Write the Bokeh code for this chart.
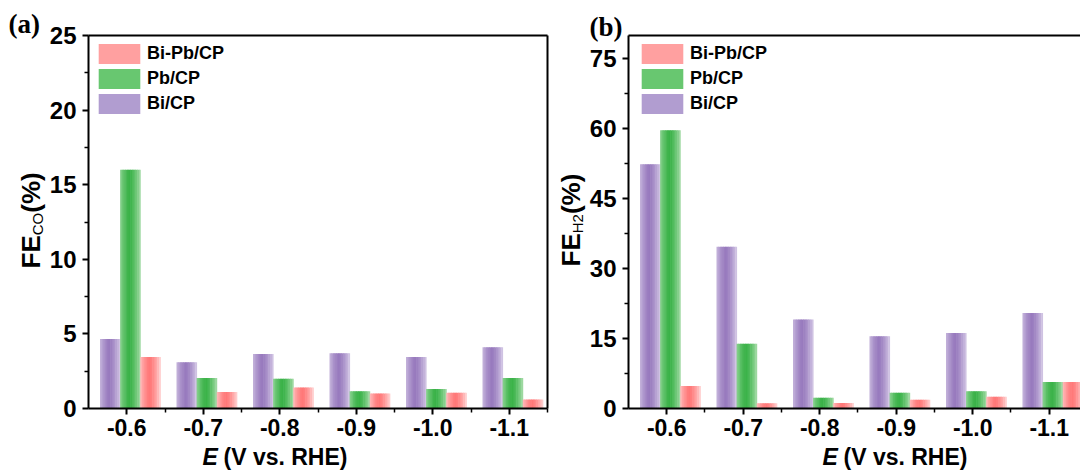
import math
import numpy as np
from bokeh.plotting import figure
from bokeh.layouts import row, column
from bokeh.models import (FixedTicker, LinearAxis, Range1d, Label, Legend, LegendItem)
from bokeh.embed import file_html
from bokeh.resources import INLINE

# ---------------- data ----------------
potentials = ["-0.6", "-0.7", "-0.8", "-0.9", "-1.0", "-1.1"]
series_names = ["Bi/CP", "Pb/CP", "Bi-Pb/CP"]

fe_co_bi = [4.65, 3.1, 3.65, 3.7, 3.45, 4.1]
fe_co_pb = [16.0, 2.05, 2.0, 1.15, 1.3, 2.05]
fe_co_bipb = [3.45, 1.1, 1.4, 1.0, 1.05, 0.6]

fe_h2_bi = [52.4, 34.7, 19.1, 15.5, 16.2, 20.5]
fe_h2_pb = [59.7, 13.9, 2.3, 3.4, 3.7, 5.7]
fe_h2_bipb = [4.8, 1.1, 1.2, 1.9, 2.5, 5.7]

co_ticks = [0, 5, 10, 15, 20, 25]
h2_ticks = [0, 15, 30, 45, 60, 75]

# ---------------- style ----------------
FONT = "Liberation Sans"
SERIF = "Liberation Serif"
dark = {"Bi/CP": (152, 122, 190), "Pb/CP": (58, 178, 72), "Bi-Pb/CP": (255, 120, 120)}
light = {"Bi/CP": (214, 203, 231), "Pb/CP": (168, 221, 170), "Bi-Pb/CP": (255, 214, 214)}
mid = {"Bi/CP": "#b19dd0", "Pb/CP": "#68c770", "Bi-Pb/CP": "#ffa0a0"}
offsets = {"Bi/CP": -0.213, "Pb/CP": 0.05, "Bi-Pb/CP": 0.313}
BW = 0.265
NSTRIP = 12
K = 0.38  # baseline correction (fraction of font size)
PLOT_H = 444


def shade(name, u):
    d = max(0.0, 1 - (abs(u - 0.45) / 0.55) ** 1.5)
    a = light[name]
    b = dark[name]
    c = tuple(int(round(a[i] + (b[i] - a[i]) * d)) for i in range(3))
    return "#%02x%02x%02x" % c


def text_fig(width, height):
    f = figure(width=width, height=height, output_backend="svg", toolbar_location=None,
               x_range=Range1d(0, 1), y_range=Range1d(0, 1),
               x_axis_location=None, y_axis_location=None,
               min_border_left=0, min_border_right=0, min_border_top=0, min_border_bottom=0,
               outline_line_color=None, background_fill_color="white",
               border_fill_color="white")
    f.grid.visible = False
    return f


def lab(fig, x, y, text, size, style="bold", font=FONT, angle=0.0, where=None):
    # (x, y) is the wanted baseline start; shift to compensate the renderer's offset
    if angle == 0.0:
        y = y + K * size
    else:
        x = x - K * size
    l = Label(x=x, y=y, x_units="screen", y_units="screen", text=text, angle=angle,
              text_font=font, text_font_style=style, text_font_size=f"{size}px",
              text_align="left", text_baseline="alphabetic", text_color="black")
    if where is None:
        fig.add_layout(l)
    else:
        fig.add_layout(l, where)


def plot_panel(vals, yend, yticks, yminor, width, bl, br, xend, right_axis, leg_x):
    bottom = PLOT_H - 35 - 373
    p = figure(width=width, height=PLOT_H, output_backend="svg", toolbar_location=None,
               x_range=Range1d(-0.5, xend), y_range=Range1d(0, yend),
               min_border_left=bl, min_border_right=br, min_border_top=35,
               min_border_bottom=bottom,
               outline_line_color=None, background_fill_color="white", border_fill_color="white")
    p.xgrid.visible = False
    p.ygrid.visible = False

    idx = np.arange(len(potentials))
    sw = BW / NSTRIP
    for name in series_names:
        v = vals[name]
        for k in range(NSTRIP):
            u = (k + 0.5) / NSTRIP
            col = shade(name, u)
            xs = idx + offsets[name] - BW / 2 + (k + 0.5) * sw
            p.vbar(x=xs, top=v, width=sw * 1.35 if k < NSTRIP - 1 else sw, bottom=0,
                   fill_color=col, line_color=None)
    items = []
    for name in ["Bi-Pb/CP", "Pb/CP", "Bi/CP"]:
        rr = p.vbar(x=[-10], top=[0], width=0.1, fill_color=mid[name], line_color=None)
        items.append(LegendItem(label=name, renderers=[rr]))
    leg = Legend(items=items, location=(leg_x, 292), orientation="vertical",
                 glyph_width=52, glyph_height=25, label_height=25, label_standoff=2,
                 spacing=0, padding=0, margin=0, border_line_color=None,
                 background_fill_alpha=0, label_text_font=FONT,
                 label_text_font_style="bold", label_text_font_size="18px",
                 label_text_color="black")
    p.add_layout(leg, "center")

    xa = p.xaxis[0]
    xa.ticker = FixedTicker(ticks=list(range(len(potentials))),
                            minor_ticks=[i + 0.5 for i in range(len(potentials))])
    xa.major_label_overrides = {i: s for i, s in enumerate(potentials)}
    ya = p.yaxis[0]
    ya.ticker = FixedTicker(ticks=yticks, minor_ticks=yminor)
    for ax in (xa, ya):
        ax.axis_line_width = 2
        ax.axis_line_color = "black"
        ax.major_tick_line_width = 2
        ax.minor_tick_line_width = 1.5
        ax.major_tick_in = 0
        ax.major_tick_out = 6
        ax.minor_tick_in = 0
        ax.minor_tick_out = 4
        ax.major_label_text_font = FONT
        ax.major_label_text_font_style = "bold"
        ax.major_label_text_color = "black"
    xa.major_label_text_font_size = "23px"
    ya.major_label_text_font_size = "24px"
    xa.major_label_standoff = 4
    ya.major_label_standoff = 6

    top = LinearAxis(ticker=FixedTicker(ticks=[]), axis_line_width=2,
                     major_tick_out=0, minor_tick_out=0, major_tick_in=0, minor_tick_in=0)
    p.add_layout(top, "above")
    if right_axis:
        rt = LinearAxis(ticker=FixedTicker(ticks=[]), axis_line_width=2,
                        major_tick_out=0, minor_tick_out=0, major_tick_in=0, minor_tick_in=0)
        p.add_layout(rt, "right")
    return p


def ylabel_fig(width, base_x, y0, sub):
    f = text_fig(width, 470)
    fs, sfs = 26, 15
    fe_w = 1.278 * fs
    sub_w = {"CO": 1.5, "H2": 1.278}[sub] * sfs
    lab(f, base_x, y0, "FE", fs, angle=math.pi / 2)
    lab(f, base_x + 2.3, y0 + fe_w, sub, sfs, style="normal", angle=math.pi / 2)
    lab(f, base_x, y0 + fe_w + sub_w, "(%)", fs, angle=math.pi / 2)
    return f


def xlabel_fig(width, x0):
    f = text_fig(width, 470 - PLOT_H)
    lab(f, x0, 5, "E", 23, style="bold italic")
    lab(f, x0 + 21, 5, "(V vs. RHE)", 23)
    return f


# ---------------- panel (a) ----------------
ya_fig = ylabel_fig(46, 40.5, 202, "CO")
lab(ya_fig, 8, 436, "(a)", 27, font=SERIF)
pa = plot_panel({"Bi/CP": fe_co_bi, "Pb/CP": fe_co_pb, "Bi-Pb/CP": fe_co_bipb},
                25, co_ticks, [2.5 + 5 * i for i in range(5)], 506, 39, 5, 5.5, True, 5)
xa_fig = xlabel_fig(506, 114)

# ---------------- panel (b) ----------------
yb_fig = ylabel_fig(34, 28.5, 204, "H2")
pb = plot_panel({"Bi/CP": fe_h2_bi, "Pb/CP": fe_h2_pb, "Bi-Pb/CP": fe_h2_bipb},
                80, h2_ticks, [7.5 + 15 * i for i in range(5)], 494, 39, 0, -0.5 + 455 / 77, False, 8)
lab(pb, -39, -2, "(b)", 27, font=SERIF, where="above")
xb_fig = xlabel_fig(494, 194)

layout = row(ya_fig, column(pa, xa_fig, spacing=0),
             yb_fig, column(pb, xb_fig, spacing=0), spacing=0)
open("out.html", "w").write(file_html(layout, INLINE))
